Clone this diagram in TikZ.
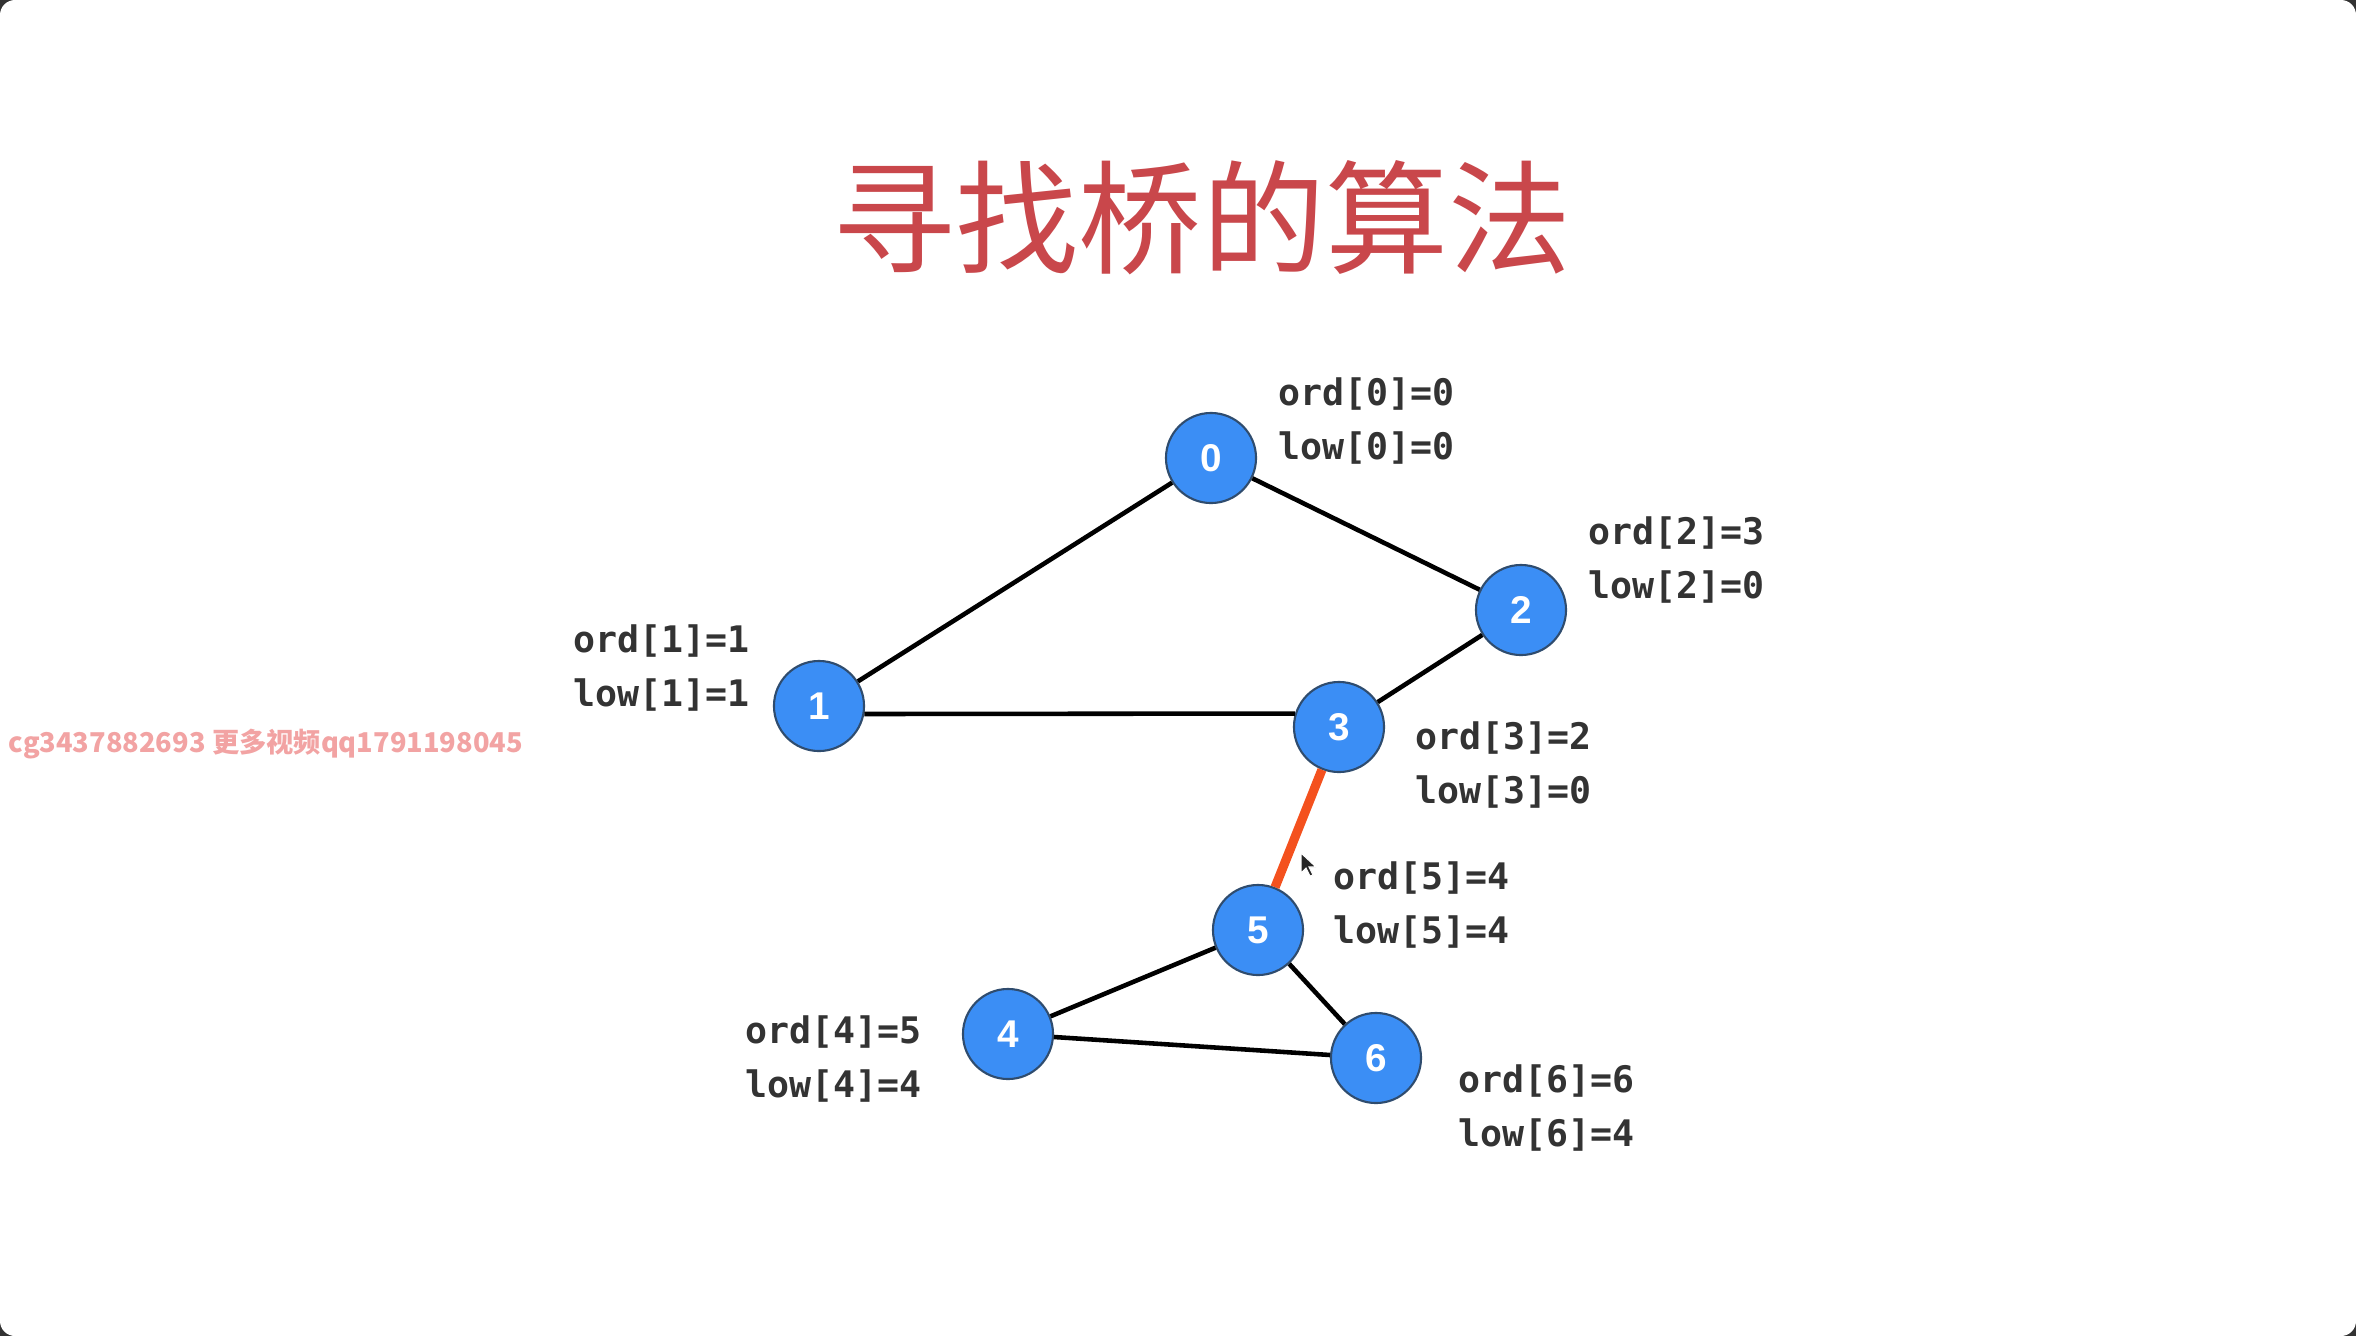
\documentclass[tikz,border=0pt]{standalone}
\usepackage{fontspec}
\setmonofont{DejaVu Sans Mono}
\newfontfamily\numfont{Liberation Sans}
\newfontfamily\cjk{Noto Sans CJK SC}
\usepackage{xcolor}
\definecolor{vtxBlue}{HTML}{3B8EF5}
\definecolor{vtxRim}{HTML}{2F4C6E}
\definecolor{bridgeRed}{HTML}{F4511E}
\definecolor{titleRed}{HTML}{C9474B}
\definecolor{markPink}{HTML}{F2A3A3}
\definecolor{labelGray}{HTML}{333333}

\begin{document}
\begin{tikzpicture}[x=0.01cm, y=-0.01cm,
  vertex/.style={circle, fill=vtxBlue, draw=vtxRim, line width=0.6pt,
    minimum size=0.9cm, inner sep=0pt, text=white,
    font=\numfont\bfseries\fontsize{11}{11}\selectfont},
  info/.style={anchor=west, align=left, inner sep=0pt, text=labelGray,
    font=\ttfamily\bfseries\fontsize{10.4}{15.4}\selectfont},
  edge/.style={black, line width=1.3pt},
  bridge/.style={bridgeRed, line width=2.6pt}]
  % ---- slide ----
  \fill[black!80] (0,0) rectangle (2356,1336);
  \fill[white, rounded corners=0.15cm] (0,0) rectangle (2356,1336);
  \node[text=titleRed, font=\cjk\fontsize{35}{35}\selectfont] (title) at (1202,218) {寻找桥的算法};
  \node[anchor=west, inner sep=0pt, text=markPink, font=\cjk\bfseries\fontsize{7.75}{7.75}\selectfont] (mark) at (8,744)
    {cg3437882693 更多视频qq1791198045};
  % ---- graph ----
  \foreach \n/\x/\y in {0/1211/458, 1/819/706, 2/1521/610, 3/1339/727, 4/1008/1034, 5/1258/930, 6/1376/1058}
    \node[vertex] (v\n) at (\x,\y) {\n};
  \foreach \a/\b in {0/1, 0/2, 2/3, 5/4, 5/6, 4/6}
    \draw[edge] (v\a) -- (v\b);
  \draw[edge] (v1.-10) -- (v3.163);
  \draw[bridge] (v3) -- (v5);
  % ---- ord / low ----
  \foreach \n/\x/\y/\o/\l in {0/1278/421/0/0, 1/573/668/1/1, 2/1588/560/3/0, 3/1415/765/2/0,
      4/745/1059/5/4, 5/1333/905/4/4, 6/1458/1108/6/4}
    \node[info] (info\n) at (\x,\y) {ord[\n]=\o\\low[\n]=\l};
  % ---- pointer ----
  \fill[black!85, draw=white, line width=0.3pt] (1301,853) -- ++(0,20) -- ++(5,-5) -- ++(4,8)
    -- ++(3,-1) -- ++(-4,-8) -- ++(7,0) -- cycle;
\end{tikzpicture}
\end{document}
